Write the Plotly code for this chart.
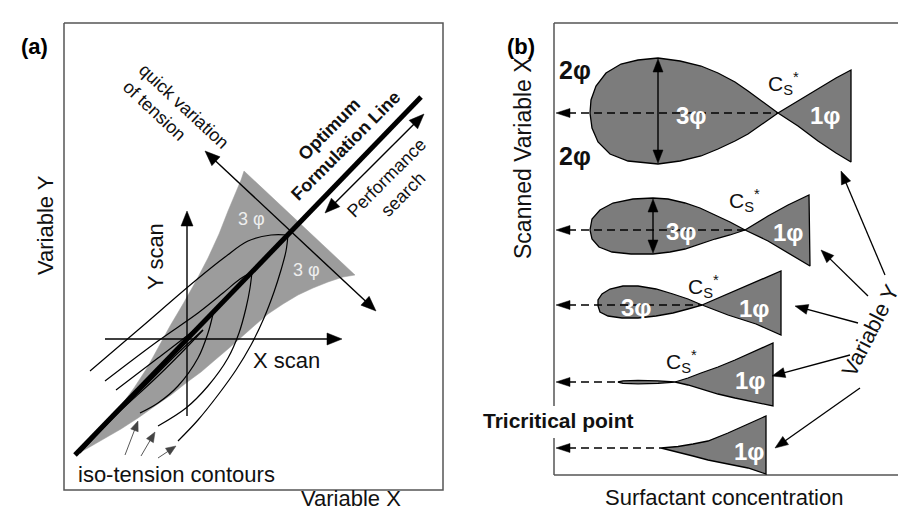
import numpy as np
import plotly.graph_objects as go

# ================= Panel (a) : formulation map =================
FRAME_A_X = [56, 435, 435, 56, 56]
FRAME_A_Y = [15, 15, 482, 482, 15]

# three-phase (grey) region
REGION_A_X = [67, 82, 97, 112, 126, 139, 150, 162, 175, 188, 200, 211, 220, 228, 233, 236,
              347, 335, 320, 305, 290, 275, 260, 246, 233, 220, 207, 193, 178, 163, 147, 130, 113, 96, 80, 67]
REGION_A_Y = [447, 433, 417, 399, 380, 360, 340, 318, 296, 273, 250, 226, 203, 184, 172, 163,
              267, 269, 274, 280, 287, 296, 306, 318, 330, 341, 352, 364, 375, 387, 398, 410, 421, 431, 440, 447]

# optimum formulation line
OPT_X = [67, 413]
OPT_Y = [447, 89]

# iso-tension contours (upper branch, lower branch)
CONTOUR_UP = [
    ([82, 130, 187, 217, 240, 263, 280], [363, 322, 273, 249, 233, 227, 227]),
    ([97, 150, 190, 215, 232, 244], [373, 333, 305, 285, 271, 264]),
    ([108, 150, 180, 197, 205], [382, 350, 327, 313, 306]),
    ([70, 110, 150, 180, 195], [444, 405, 368, 338, 322]),
]
CONTOUR_DN = [
    ([280, 278, 273, 266, 256, 243, 228, 210, 190, 170],
     [227, 243, 262, 284, 310, 337, 362, 387, 412, 433]),
    ([244, 242, 238, 231, 220, 200, 178, 150],
     [264, 280, 300, 325, 350, 378, 400, 418]),
    ([205, 200, 190, 170, 150, 132], [306, 325, 350, 378, 395, 405]),
    ([195, 170, 140, 105, 72], [322, 345, 375, 410, 445]),
]

# arrows of panel (a): x0, y0, x1, y1, heads
ARROWS_A = [
    (197, 143, 368, 303, "both"),   # quick variation of tension
    (317, 205, 416, 106, "both"),   # performance search
    (97, 331, 334, 331, "end"),     # X scan
    (179, 408, 179, 203, "end"),    # Y scan
]
ISO_ARROWS = [
    (117, 447, 130, 413),
    (133, 448, 147, 424),
    (150, 450, 168, 438),
]

# ================= Panel (b) : fish diagrams =================
FRAME_B_SEGS = [
    ([546, 906], [15, 15]),
    ([546, 906], [467, 467]),
    ([546, 546], [15, 398]),
    ([546, 546], [430, 467]),
]

LOBE_X = [
    [770, 753, 740, 727, 710, 693, 672, 650, 630, 613, 598, 588, 583, 582,
     584, 590, 602, 620, 650, 672, 693, 710, 727, 740, 753, 770],
    [737, 722, 707, 692, 677, 660, 645, 625, 605, 592, 584, 582,
     584, 591, 604, 623, 645, 662, 677, 692, 707, 722, 737],
    [694, 680, 665, 648, 630, 615, 602, 594, 590, 590,
     592, 600, 614, 630, 648, 665, 680, 694],
    [667, 650, 630, 615, 610, 615, 630, 650, 667],
]
LOBE_Y = [
    [105, 92, 83, 74, 65, 58, 53, 50, 52, 56, 65, 78, 92, 105,
     120, 134, 146, 153, 156, 153, 148, 141, 133, 126, 117, 105],
    [222, 214, 207, 200, 195, 191, 190, 191, 195, 202, 211, 222,
     231, 239, 244, 246, 246, 244, 241, 236, 231, 227, 222],
    [297, 291, 286, 281, 278, 278, 281, 286, 292, 298,
     304, 308, 310, 310, 308, 305, 301, 297],
    [374, 372.8, 372.3, 372.8, 374, 375.3, 375.8, 375.3, 374],
]
TAIL_X = [
    [770, 790, 810, 828, 843, 843, 828, 810, 790, 770],
    [737, 760, 780, 801, 802, 780, 760, 737],
    [694, 720, 748, 773, 773, 748, 720, 694],
    [667, 680, 693, 710, 727, 745, 765, 765, 745, 727, 710, 693, 680, 667],
    [653, 670, 685, 700, 720, 740, 758, 758, 740, 720, 700, 685, 670, 653],
]
TAIL_Y = [
    [105, 93, 81, 70, 62, 154, 145, 133, 118, 105],
    [222, 208, 197, 187, 258, 245, 233, 222],
    [297, 286, 274, 263, 327, 316, 307, 297],
    [374, 370, 365, 359, 352, 344, 335, 398, 394, 390, 386, 381, 377, 374],
    [440, 438.5, 436, 433, 425, 416, 408, 466, 460, 456, 452, 448, 444, 440],
]
# dashed scan lines (y level, x end)
DASH_Y = [105, 222, 297, 374, 440]
DASH_END = [770, 737, 694, 610, 653]
DASH_START = 548

# double arrows (width of 3-phase region)
WIDTH_ARROWS = [(650, 51, 650, 155), (645, 191, 645, 245)]
# arrows from "Variable Y"
VARY_ARROWS = [
    (877, 267, 833, 163),
    (860, 288, 813, 242),
    (850, 315, 787, 298),
    (842, 347, 764, 368),
    (852, 380, 767, 440),
]

FONT = "Liberation Sans, Arial, Helvetica, sans-serif"
GREY_A = "#9c9c9c"
GREY_B = "#7c7c7c"

fig = go.Figure()


def add_line(xs, ys, color="black", width=1.3, dash=None, shape="linear"):
    fig.add_trace(go.Scatter(x=xs, y=ys, mode="lines",
                             line=dict(color=color, width=width, dash=dash, shape=shape),
                             hoverinfo="skip", showlegend=False))


def add_head(tx, ty, ux, uy, L, W, color="black"):
    bx, by = tx - L * ux, ty - L * uy
    nx, ny = -uy, ux
    fig.add_trace(go.Scatter(x=[tx, bx + W * nx, bx - W * nx, tx],
                             y=[ty, by + W * ny, by - W * ny, ty],
                             mode="lines", fill="toself", fillcolor=color,
                             line=dict(color=color, width=0.5),
                             hoverinfo="skip", showlegend=False))


def add_arrow(x0, y0, x1, y1, heads="end", color="black", width=1.3, L=14, W=5.5):
    d = np.hypot(x1 - x0, y1 - y0)
    ux, uy = (x1 - x0) / d, (y1 - y0) / d
    sx, sy, ex, ey = x0, y0, x1, y1
    if heads in ("end", "both"):
        ex, ey = x1 - 0.7 * L * ux, y1 - 0.7 * L * uy
    if heads == "both":
        sx, sy = x0 + 0.7 * L * ux, y0 + 0.7 * L * uy
    add_line([sx, ex], [sy, ey], color=color, width=width)
    if heads in ("end", "both"):
        add_head(x1, y1, ux, uy, L, W, color)
    if heads == "both":
        add_head(x0, y0, -ux, -uy, L, W, color)


# ---------- panel (a) ----------
fig.add_trace(go.Scatter(x=REGION_A_X, y=REGION_A_Y, mode="lines", fill="toself",
                         fillcolor=GREY_A, line=dict(color=GREY_A, width=0.5),
                         hoverinfo="skip", showlegend=False))
for (ux, uy), (dx, dy) in zip(CONTOUR_UP, CONTOUR_DN):
    add_line(ux, uy, width=1.2, shape="spline")
    add_line(dx, dy, width=1.2, shape="spline")
add_line(OPT_X, OPT_Y, width=5)
for x0, y0, x1, y1, h in ARROWS_A:
    add_arrow(x0, y0, x1, y1, heads=h, width=1.4, L=15, W=6)
for x0, y0, x1, y1 in ISO_ARROWS:
    add_arrow(x0, y0, x1, y1, heads="end", color="#444", width=0.9, L=10, W=4)
add_line(FRAME_A_X, FRAME_A_Y, color="#555", width=1.5)

# ---------- panel (b) ----------
for sx, sy in FRAME_B_SEGS:
    add_line(sx, sy, color="#555", width=1.5)
for lx, ly in zip(LOBE_X, LOBE_Y):
    fig.add_trace(go.Scatter(x=lx, y=ly, mode="lines", fill="toself", fillcolor=GREY_B,
                             line=dict(color="black", width=1.3), hoverinfo="skip", showlegend=False))
for tx, ty in zip(TAIL_X, TAIL_Y):
    fig.add_trace(go.Scatter(x=tx, y=ty, mode="lines", fill="toself", fillcolor=GREY_B,
                             line=dict(color="black", width=1.3), hoverinfo="skip", showlegend=False))
for yv, xe in zip(DASH_Y, DASH_END):
    add_line([DASH_START + 12, xe], [yv, yv], width=1.4, dash="8px,5px")
    add_head(DASH_START, yv, -1, 0, 14, 4.5)
for x0, y0, x1, y1 in WIDTH_ARROWS:
    add_arrow(x0, y0, x1, y1, heads="both", width=1.4, L=13, W=5)
for x0, y0, x1, y1 in VARY_ARROWS:
    add_arrow(x0, y0, x1, y1, heads="end", width=1.3, L=13, W=5)

# ---------- texts ----------
TEXTS = [
    # text, x, y, size, angle, color, align
    ("<b>(a)</b>", 26, 38, 22, 0, "black", "center"),
    ("Variable Y", 37, 217, 22, -90, "#111", "center"),
    ("Variable X", 343, 490, 22, 0, "#111", "center"),
    ("iso-tension contours", 168, 466, 22, 0, "#111", "center"),
    ("X scan", 278, 352, 22, 0, "#111", "center"),
    ("Y scan", 147, 249, 22, -90, "#111", "center"),
    ("quick variation<br>of tension", 168, 106, 18, 43, "#111", "left"),
    ("<b>Optimum<br>Formulation Line</b>", 329, 129, 18, -45, "#111", "center"),
    ("Performance<br>search", 386, 178, 18, -45, "#111", "center"),
    ("3 φ", 243, 211, 18, 0, "#eeeeee", "center"),
    ("3 φ", 298, 262, 18, 0, "#eeeeee", "center"),
    ("<b>(b)</b>", 513, 38, 22, 0, "black", "center"),
    ("Scanned Variable X", 515, 150, 23, -90, "#111", "center"),
    ("Surfactant concentration", 716, 489, 22, 0, "#111", "center"),
    ("<b>Tricritical point</b>", 550, 412, 21, 0, "#111", "center"),
    ("<b>2φ</b>", 567, 62, 25, 0, "#111", "center"),
    ("<b>2φ</b>", 567, 148, 25, 0, "#111", "center"),
    ("<b>3φ</b>", 683, 107, 24, 0, "white", "center"),
    ("<b>3φ</b>", 673, 223, 24, 0, "white", "center"),
    ("<b>3φ</b>", 628, 299, 24, 0, "white", "center"),
    ("<b>1φ</b>", 817, 107, 24, 0, "white", "center"),
    ("<b>1φ</b>", 780, 224, 24, 0, "white", "center"),
    ("<b>1φ</b>", 746, 300, 24, 0, "white", "center"),
    ("<b>1φ</b>", 742, 372, 24, 0, "white", "center"),
    ("<b>1φ</b>", 741, 443, 24, 0, "white", "center"),
    ("C<sub>S</sub><sup>*</sup>", 775, 75, 21, 0, "#111", "center"),
    ("C<sub>S</sub><sup>*</sup>", 736, 192, 21, 0, "#111", "center"),
    ("C<sub>S</sub><sup>*</sup>", 695, 278, 21, 0, "#111", "center"),
    ("C<sub>S</sub><sup>*</sup>", 673, 353, 21, 0, "#111", "center"),
    ("Variable Y", 862, 322, 22, -63, "#111", "center"),
]
for t, x, y, s, a, c, al in TEXTS:
    fig.add_annotation(x=x, y=y, xref="x", yref="y", text=t, showarrow=False,
                       textangle=a, align=al, xanchor="center", yanchor="middle",
                       font=dict(family=FONT, size=s, color=c))

fig.update_layout(
    width=906, height=510,
    margin=dict(l=0, r=0, t=0, b=0),
    paper_bgcolor="white", plot_bgcolor="white",
    xaxis=dict(range=[0, 906], visible=False, fixedrange=True),
    yaxis=dict(range=[510, 0], visible=False, fixedrange=True),
    showlegend=False,
)
fig.write_html("out.html")
